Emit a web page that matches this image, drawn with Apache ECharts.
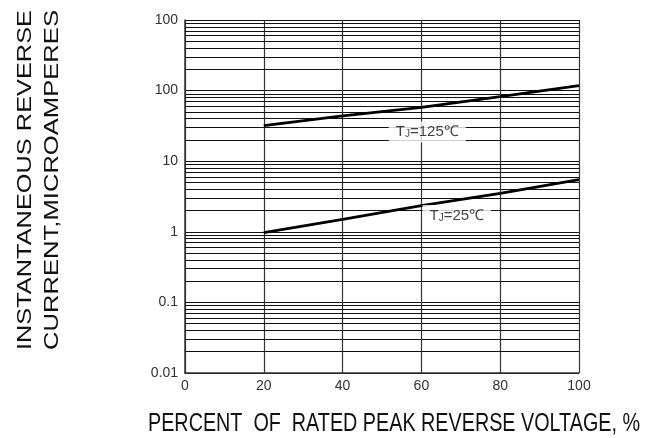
<!DOCTYPE html>
<html><head><meta charset="utf-8">
<script src="https://cdn.jsdelivr.net/npm/echarts@6/dist/echarts.min.js"></script>
<style>html,body{margin:0;padding:0;background:#fff}#c{width:655px;height:438px}</style>
</head><body><div id="c"></div>
<script>
// ---- data ----
const xTicks = [0, 20, 40, 60, 80, 100];
const yTickLabels = ['0.01', '0.1', '1', '10', '100', '100'];
const voltagePct = [20, 40, 60, 80, 100];
const current125 = [32, 44, 58, 82, 118];
const current25 = [0.97, 1.5, 2.35, 3.5, 5.5];
const label125 = [61.5, 26];
const label25 = [69, 1.7];
const yName1 = 'INSTANTANEOUS REVERSE';
const yName2 = 'CURRENT,MICROAMPERES';
const xName = 'PERCENT  OF  RATED PEAK REVERSE VOLTAGE, %';

// minor log gridlines (2..9 of each decade)
const minorLines = [];
[0.01, 0.1, 1, 10, 100].forEach(d => { for (let k = 2; k <= 9; k++) minorLines.push({ yAxis: +(d * k).toPrecision(3) }); });

const FONT = '"Liberation Sans", Arial, sans-serif';
const ctx = document.createElement('canvas').getContext('2d');
function textW(font, t) { ctx.font = font; return ctx.measureText(t).width; }
const yFont = '21px ' + FONT, xFont = '25px ' + FONT;
const s1 = 340 / textW(yFont, yName1), s2 = 340 / textW(yFont, yName2), sx = 492 / textW(xFont, xName);

const chart = echarts.init(document.getElementById('c'));
const rich = {
  a: { fontFamily: FONT, fontSize: 15, color: '#111' },
  b: { fontFamily: FONT, fontSize: 10, color: '#111', padding: [5, 0, 0, 0] }
};
chart.setOption({
  animation: false,
  backgroundColor: '#fff',
  grid: { left: 185, right: 76, top: 20, bottom: 65 },
  xAxis: {
    type: 'value', min: 0, max: 100, interval: 20,
    axisLine: { show: true, lineStyle: { color: '#333', width: 1.5 } },
    axisTick: { show: false },
    axisLabel: { fontFamily: FONT, fontSize: 14, color: '#333', margin: 6 },
    splitLine: { show: true, lineStyle: { color: '#333', width: 1.2 } }
  },
  yAxis: {
    type: 'log', logBase: 10, min: 0.01, max: 1000,
    axisLine: { show: true, lineStyle: { color: '#333', width: 1.5 } },
    axisTick: { show: false },
    axisLabel: {
      fontFamily: FONT, fontSize: 14, color: '#333', margin: 7, padding: [0, 0, 3, 0],
      formatter: v => yTickLabels[Math.round(Math.log10(v)) + 2]
    },
    splitLine: { show: true, lineStyle: { color: '#111', width: 1 } }
  },
  graphic: [
    { type: 'text', rotation: Math.PI / 2, scaleX: s1, x: 25, y: 180,
      style: { text: yName1, font: yFont, fill: '#111', align: 'center', verticalAlign: 'middle', x: 0, y: 0 } },
    { type: 'text', rotation: Math.PI / 2, scaleX: s2, x: 52, y: 180,
      style: { text: yName2, font: yFont, fill: '#111', align: 'center', verticalAlign: 'middle', x: 0, y: 0 } },
    { type: 'text', scaleX: sx, x: 394, y: 424,
      style: { text: xName, font: xFont, fill: '#111', align: 'center', verticalAlign: 'middle', x: 0, y: 0 } }
  ],
  series: [
    { type: 'line', data: [], silent: true,
      markLine: { silent: true, symbol: 'none', label: { show: false },
        lineStyle: { color: '#111', width: 1, type: 'solid' }, data: minorLines } },
    { type: 'line', name: '125', data: voltagePct.map((x, i) => [x, current125[i]]),
      symbol: 'none', lineStyle: { color: '#000', width: 2.8 }, z: 5 },
    { type: 'line', name: '25', data: voltagePct.map((x, i) => [x, current25[i]]),
      symbol: 'none', lineStyle: { color: '#000', width: 2.8 }, z: 5 },
    { type: 'scatter', symbolSize: 0, z: 6,
      data: [label125, label25].map((p, i) => ({ value: p, t: i === 0 ? '125' : '25' })),
      label: { show: true, position: 'inside', backgroundColor: '#fff', padding: [3, 7, 3, 7],
        formatter: p => '{a|T}{b|J}{a|=' + p.data.t + '℃}', rich: rich } }
  ]
});
</script></body></html>
